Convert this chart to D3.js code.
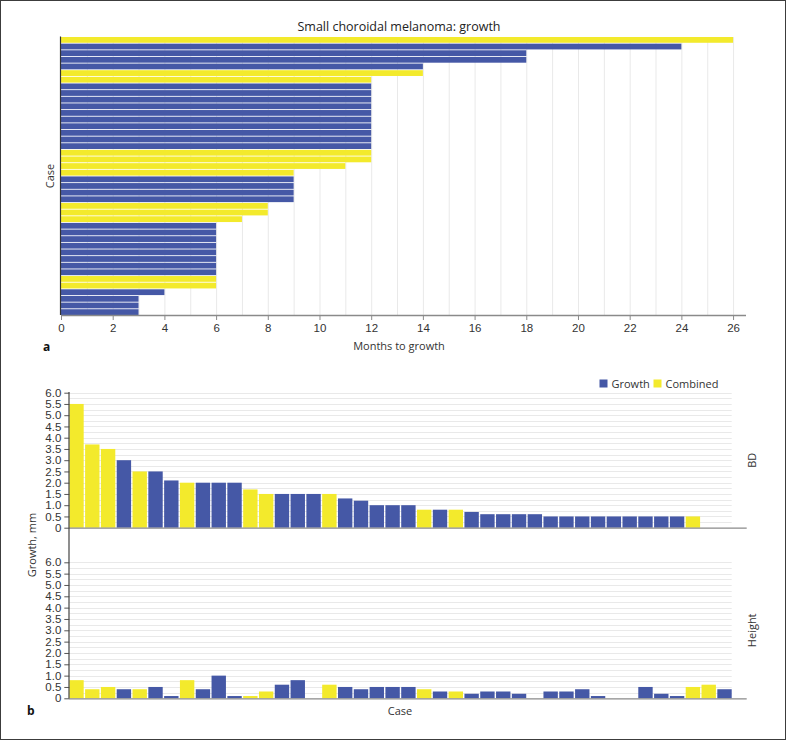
<!DOCTYPE html>
<html>
<head>
<meta charset="utf-8">
<script src="https://cdn.jsdelivr.net/npm/d3@7"></script>
<style>
  html, body { margin: 0; padding: 0; background: #fff; }
  svg { display: block; font-family: "Open Sans", "Noto Sans", sans-serif; }
</style>
</head>
<body>
<svg id="chart" width="787" height="741"></svg>
<script>
// ---------- DATA ----------
// Panel a: months to growth per case (top to bottom), G = Growth, C = Combined
const topMonths = [26, 24, 18, 18, 14, 14, 12,
  12, 12, 12, 12, 12, 12, 12, 12, 12, 12,
  12, 12, 11, 9,
  9, 9, 9, 9,
  8, 8, 7,
  6, 6, 6, 6, 6, 6, 6, 6,
  6, 6,
  4, 3, 3, 3];
const topType = ["C", "G", "G", "G", "G", "C", "C",
  "G", "G", "G", "G", "G", "G", "G", "G", "G", "G",
  "C", "C", "C", "C",
  "G", "G", "G", "G",
  "C", "C", "C",
  "G", "G", "G", "G", "G", "G", "G", "G",
  "C", "C",
  "G", "G", "G", "G"];
const topTicks = [0, 2, 4, 6, 8, 10, 12, 14, 16, 18, 20, 22, 24, 26];

// Panel b: growth (mm) per case
const bdValues = [5.5, 3.7, 3.5, 3.0, 2.5, 2.5, 2.1, 2.0, 2.0, 2.0,
  2.0, 1.7, 1.5, 1.5, 1.5, 1.5, 1.5, 1.3, 1.2, 1.0,
  1.0, 1.0, 0.8, 0.8, 0.8, 0.7, 0.6, 0.6, 0.6, 0.6,
  0.5, 0.5, 0.5, 0.5, 0.5, 0.5, 0.5, 0.5, 0.5, 0.5,
  0, 0];
const heightValues = [0.8, 0.4, 0.5, 0.4, 0.4, 0.5, 0.1, 0.8, 0.4, 1.0,
  0.1, 0.1, 0.3, 0.6, 0.8, 0, 0.6, 0.5, 0.4, 0.5,
  0.5, 0.5, 0.4, 0.3, 0.3, 0.2, 0.3, 0.3, 0.2, 0,
  0.3, 0.3, 0.4, 0.1, 0, 0, 0.5, 0.2, 0.1, 0.5,
  0.6, 0.4];
const bottomType = ["C", "C", "C", "G", "C", "G", "G", "C", "G", "G",
  "G", "C", "C", "G", "G", "G", "C", "G", "G", "G",
  "G", "G", "C", "G", "C", "G", "G", "G", "G", "G",
  "G", "G", "G", "G", "G", "G", "G", "G", "G", "C",
  "C", "G"];
const yTicks = [0, 0.5, 1.0, 1.5, 2.0, 2.5, 3.0, 3.5, 4.0, 4.5, 5.0, 5.5, 6.0];
const gridTicks = [0.25, 0.5, 0.75, 1, 1.25, 1.5, 1.75, 2, 2.25, 2.5, 2.75, 3, 3.25, 3.5, 3.75, 4, 4.25, 4.5, 4.75, 5, 5.25, 5.5, 5.75, 6];
const legendItems = ["Growth", "Combined"];
const legendKeys = ["G", "C"];

// ---------- STYLE ----------
const BLUE = "#4558a6";
const YELLOW = "#f3ea2c";
const color = t => t === "G" ? BLUE : YELLOW;
const TEXT = "#333";
const GRID = "#e9e9e9";
const AXIS = "#8a8a8a";

const svg = d3.select("#chart");

// frame
svg.append("rect").attr("x", 0.5).attr("y", 0.5).attr("width", 785).attr("height", 739)
  .attr("fill", "none").attr("stroke", "#3c3c3c").attr("stroke-width", 1);

// ---------- PANEL A ----------
const ax = d3.scaleLinear().domain([0, 26.5]).range([61, 746]);
const ay = d3.scaleBand().domain(d3.range(topMonths.length)).range([37, 315]).paddingInner(0.13);

const gA = svg.append("g");
// vertical gridlines each month
gA.append("g").selectAll("line").data(d3.range(1, 27)).join("line")
  .attr("x1", d => ax(d) + 0.5).attr("x2", d => ax(d) + 0.5)
  .attr("y1", 37).attr("y2", 315)
  .attr("stroke", GRID).attr("stroke-width", 1);

gA.append("g").selectAll("rect").data(topMonths).join("rect")
  .attr("x", ax(0))
  .attr("y", (d, i) => ay(i))
  .attr("width", d => ax(d) - ax(0))
  .attr("height", ay.bandwidth())
  .attr("fill", (d, i) => color(topType[i]));

// x axis
const axisA = gA.append("g").attr("transform", "translate(0,315)")
  .call(d3.axisBottom(ax).tickValues(topTicks).tickSize(5).tickPadding(4).tickSizeOuter(0));
axisA.select(".domain").remove();
axisA.selectAll(".tick line").attr("stroke", AXIS);
axisA.selectAll(".tick text").attr("fill", TEXT).attr("font-size", 11.5).attr("font-family", null);
gA.append("line").attr("x1", 61).attr("x2", 746).attr("y1", 315.5).attr("y2", 315.5)
  .attr("stroke", AXIS).attr("stroke-width", 1.5);
// y axis line
gA.append("line").attr("x1", 60.5).attr("x2", 60.5).attr("y1", 36.5).attr("y2", 315)
  .attr("stroke", "#333").attr("stroke-width", 1.2);

// titles
svg.append("text").attr("x", 399).attr("y", 30.5).attr("text-anchor", "middle")
  .attr("font-size", 12.5).attr("fill", "#222").text("Small choroidal melanoma: growth");
svg.append("text").attr("x", 399).attr("y", 350).attr("text-anchor", "middle")
  .attr("font-size", 11).attr("fill", TEXT).text("Months to growth");
svg.append("text").attr("transform", "translate(54,176) rotate(-90)").attr("text-anchor", "middle")
  .attr("font-size", 11).attr("fill", TEXT).text("Case");
svg.append("text").attr("x", 43).attr("y", 350.5)
  .attr("font-size", 12).attr("font-weight", "bold").attr("fill", "#111").text("a");

// ---------- PANEL B ----------
const bx = d3.scaleBand().domain(d3.range(bdValues.length)).range([69.3, 731.7]).paddingInner(0.09);
const panels = [
  { values: bdValues, y: d3.scaleLinear().domain([0, 6]).range([527.7, 392.7]), label: "BD" },
  { values: heightValues, y: d3.scaleLinear().domain([0, 6]).range([698.3, 562.3]), label: "Height" }
];

panels.forEach(p => {
  const g = svg.append("g");
  g.append("g").selectAll("line").data(gridTicks).join("line")
    .attr("x1", 69.3).attr("x2", 731.7)
    .attr("y1", d => Math.round(p.y(d)) + 0.5).attr("y2", d => Math.round(p.y(d)) + 0.5)
    .attr("stroke", GRID).attr("stroke-width", 1);

  g.append("g").selectAll("rect").data(p.values).join("rect")
    .attr("x", (d, i) => bx(i))
    .attr("y", d => p.y(d))
    .attr("width", bx.bandwidth())
    .attr("height", d => p.y(0) - p.y(d))
    .attr("fill", (d, i) => color(bottomType[i]));

  const yAx = g.append("g").attr("transform", "translate(69.3,0)")
    .call(d3.axisLeft(p.y).tickValues(yTicks).tickSize(5).tickPadding(3)
      .tickFormat(d => d === 0 ? "0" : d3.format(".1f")(d)).tickSizeOuter(0));
  yAx.select(".domain").remove();
  yAx.selectAll(".tick line").attr("stroke", "#555");
  yAx.selectAll(".tick text").attr("fill", TEXT).attr("font-size", 11.5).attr("font-family", null);

  g.append("line").attr("x1", 69).attr("x2", 746.7)
    .attr("y1", p.y(0) + 0.5).attr("y2", p.y(0) + 0.5)
    .attr("stroke", AXIS).attr("stroke-width", 1.3);

  g.append("text")
    .attr("transform", `translate(756,${(p.y(0) + p.y(6)) / 2}) rotate(-90)`)
    .attr("text-anchor", "middle").attr("font-size", 11).attr("fill", TEXT).text(p.label);
});

// y axis line across both panels
svg.append("line").attr("x1", 69).attr("x2", 69).attr("y1", 392).attr("y2", 698.5)
  .attr("stroke", "#444").attr("stroke-width", 1.2);

svg.append("text").attr("transform", "translate(36,545) rotate(-90)").attr("text-anchor", "middle")
  .attr("font-size", 11).attr("fill", TEXT).text("Growth, mm");
svg.append("text").attr("x", 400).attr("y", 715).attr("text-anchor", "middle")
  .attr("font-size", 11).attr("fill", TEXT).text("Case");
svg.append("text").attr("x", 27).attr("y", 715)
  .attr("font-size", 12).attr("font-weight", "bold").attr("fill", "#111").text("b");

// legend
const legX = [599.5, 653.5];
legendItems.forEach((name, i) => {
  svg.append("rect").attr("x", legX[i]).attr("y", 379.5).attr("width", 8).attr("height", 8)
    .attr("fill", color(legendKeys[i]));
  svg.append("text").attr("x", legX[i] + 12).attr("y", 387.5)
    .attr("font-size", 11).attr("fill", TEXT).text(name);
});
</script>
</body>
</html>
